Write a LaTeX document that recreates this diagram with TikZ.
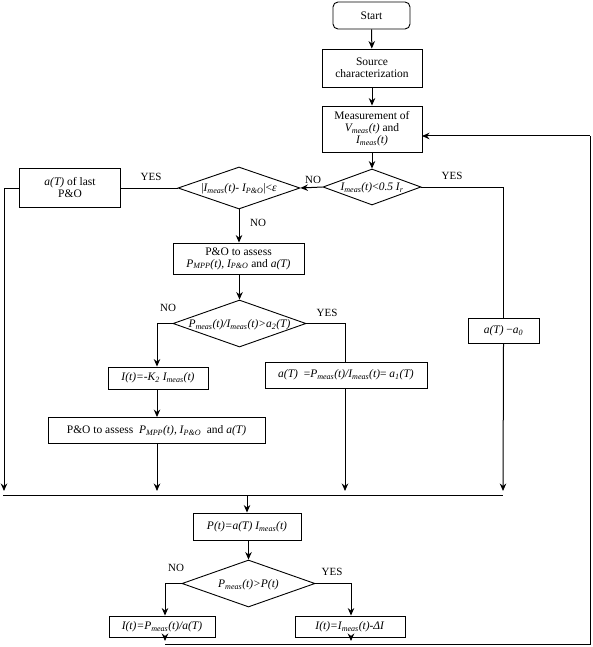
\documentclass[tikz,border=0pt]{standalone}
\usepackage{fontspec}
\setmainfont{Liberation Serif}
\usetikzlibrary{shapes.geometric,arrows.meta}
\newcommand{\sbs}[1]{\textsubscript{#1}}
\tikzset{
  box/.style={draw, line width=0.9pt, align=center, inner sep=1pt, font=\fontsize{11.5}{12}\selectfont},
  dia/.style={draw, diamond, line width=0.9pt, inner sep=0pt},
  dtext/.style={inner sep=0pt, font=\fontsize{11.5}{12}\selectfont},
  lbl/.style={inner sep=0pt, font=\fontsize{11}{12}\selectfont},
  ln/.style={line width=0.9pt},
  arr/.style={line width=1pt, -{Stealth[length=7.5pt,width=6.5pt]}},
}
\begin{document}
\begin{tikzpicture}[x=1pt,y=-1pt]
\useasboundingbox (0,0) rectangle (592,647);
% boxes
\node[box, rounded corners=5pt, minimum width=77pt, minimum height=27pt] (start) at (371.5,15.5) {Start};
\node[box, minimum width=100pt, minimum height=38pt] (src) at (372,68) {Source\\characterization};
\node[box, minimum width=100pt, minimum height=46pt] (meas) at (372,129) {Measurement of\\\textit{V\sbs{meas}(t)} and\\\textit{I\sbs{meas}(t)}};
\node[dia, minimum width=98pt, minimum height=36pt] (d1) at (372,187) {};
\node[dtext] (d1t) at (372,188) {\textit{I\sbs{meas}(t)}\textless\textit{0.5 I\sbs{r}}};
\node[dia, minimum width=122pt, minimum height=42pt] (d2) at (239,188) {};
\node[dtext] (d2t) at (239,189) {|\textit{I\sbs{meas}(t)}- \textit{I\sbs{P\&O}}|\textless\textit{ε}};
\node[box, minimum width=101pt, minimum height=39pt] (last) at (70,188) {\textit{a(T)} of last\\P\&O};
\node[box, minimum width=131pt, minimum height=31pt] (po1) at (238.5,258.5) {P\&O to assess\\\textit{P\sbs{MPP}(t), I\sbs{P\&O}} and \textit{a(T)}};
\node[dia, minimum width=133pt, minimum height=47pt] (d3) at (239.5,323.5) {};
\node[dtext] (d3t) at (239.5,324.5) {\textit{P\sbs{meas}(t)/I\sbs{meas}(t)\textgreater a\sbs{2}(T)}};
\node[box, minimum width=100pt, minimum height=22pt] (k2) at (158,378) {\textit{I(t)=-K\sbs{2} I\sbs{meas}(t)}};
\node[box, minimum width=162pt, minimum height=26pt] (a1) at (346,375) {\textit{a(T)}\ \ =\textit{P\sbs{meas}(t)/I\sbs{meas}(t)}= \textit{a\sbs{1}(T)}};
\node[box, minimum width=71pt, minimum height=25pt] (a0) at (503.5,331) {\textit{a(T)} −\textit{a\sbs{0}}};
\node[box, minimum width=217pt, minimum height=26pt] (po2) at (156.5,430.5) {P\&O to assess\ \ \textit{P\sbs{MPP}(t), I\sbs{P\&O}}\ \ and \textit{a(T)}};
\node[box, minimum width=108pt, minimum height=27pt] (pt) at (247,526.5) {\textit{P(t)=a(T) I\sbs{meas}(t)}};
\node[dia, minimum width=133pt, minimum height=47pt] (d4) at (248.5,583.5) {};
\node[dtext] (d4t) at (248.5,584.5) {\textit{P\sbs{meas}(t)\textgreater P(t)}};
\node[box, minimum width=106pt, minimum height=21pt] (i1) at (162,626.5) {\textit{I(t)=P\sbs{meas}(t)/a(T)}};
\node[box, minimum width=110pt, minimum height=21pt] (i2) at (350,626.5) {\textit{I(t)=I\sbs{meas}(t)-ΔI}};
% coordinates
\coordinate (busL) at (3,495);
\coordinate (busR) at (503,495);
\coordinate (busC) at (247,495);
\coordinate (botL) at (165,644);
\coordinate (botR) at (590,644);
\coordinate (loopT) at (590,136);
\coordinate (measin) at (422,136);
% labels
\node[lbl] (noA) at (313,180) {NO};
\node[lbl] (yesA) at (452,176) {YES};
\node[lbl] (yesB) at (151,177) {YES};
\node[lbl] (noB) at (258,223) {NO};
\node[lbl] (noC) at (168,308) {NO};
\node[lbl] (yesC) at (327,313) {YES};
\node[lbl] (noD) at (176,568) {NO};
\node[lbl] (yesD) at (332,572) {YES};
% connectors
\draw[arr] (start) -- (src);
\draw[arr] (src) -- (meas);
\draw[arr] (meas) -- (d1);
\draw[arr] (d1.west) -- (d2.east);
\draw[ln] (d1.east) -| (a0.north);
\draw[arr] (a0.south) -- (busR |- 0,491);
\draw[ln] (d2.west) -- (last.east |- d2.west);
\draw[arr] (last.west) -| (4,491);
\draw[arr] (d2.south) -- (po1.north -| d2.south);
\draw[arr] (po1.south -| d3.north) -- (d3.north);
\draw[arr] (d3.west) -| (k2.north -| 157,0);
\draw[ln] (d3.east) -| (a1.north -| 345,0);
\draw[arr] (k2.south -| 157,0) -- (po2.north -| 157,0);
\draw[arr] (po2.south -| 157,0) -- (157,491);
\draw[arr] (a1.south -| 345,0) -- (345,491);
\draw[ln] (busL) -- (busR);
\draw[arr] (busC) -- (pt.north -| busC);
\draw[arr] (pt.south -| d4.north) -- (d4.north);
\draw[arr] (d4.west) -| (i1.north -| botL);
\draw[arr] (d4.east) -| (i2.north -| 351,0);
\draw[arr] (i1.south -| botL) -- (165,641);
\draw[arr] (i2.south -| 351,0) -- (351,641);
\draw[ln] (botL) -- (botR) -- (loopT);
\draw[arr] (loopT) -- (measin);
\end{tikzpicture}
\end{document}
